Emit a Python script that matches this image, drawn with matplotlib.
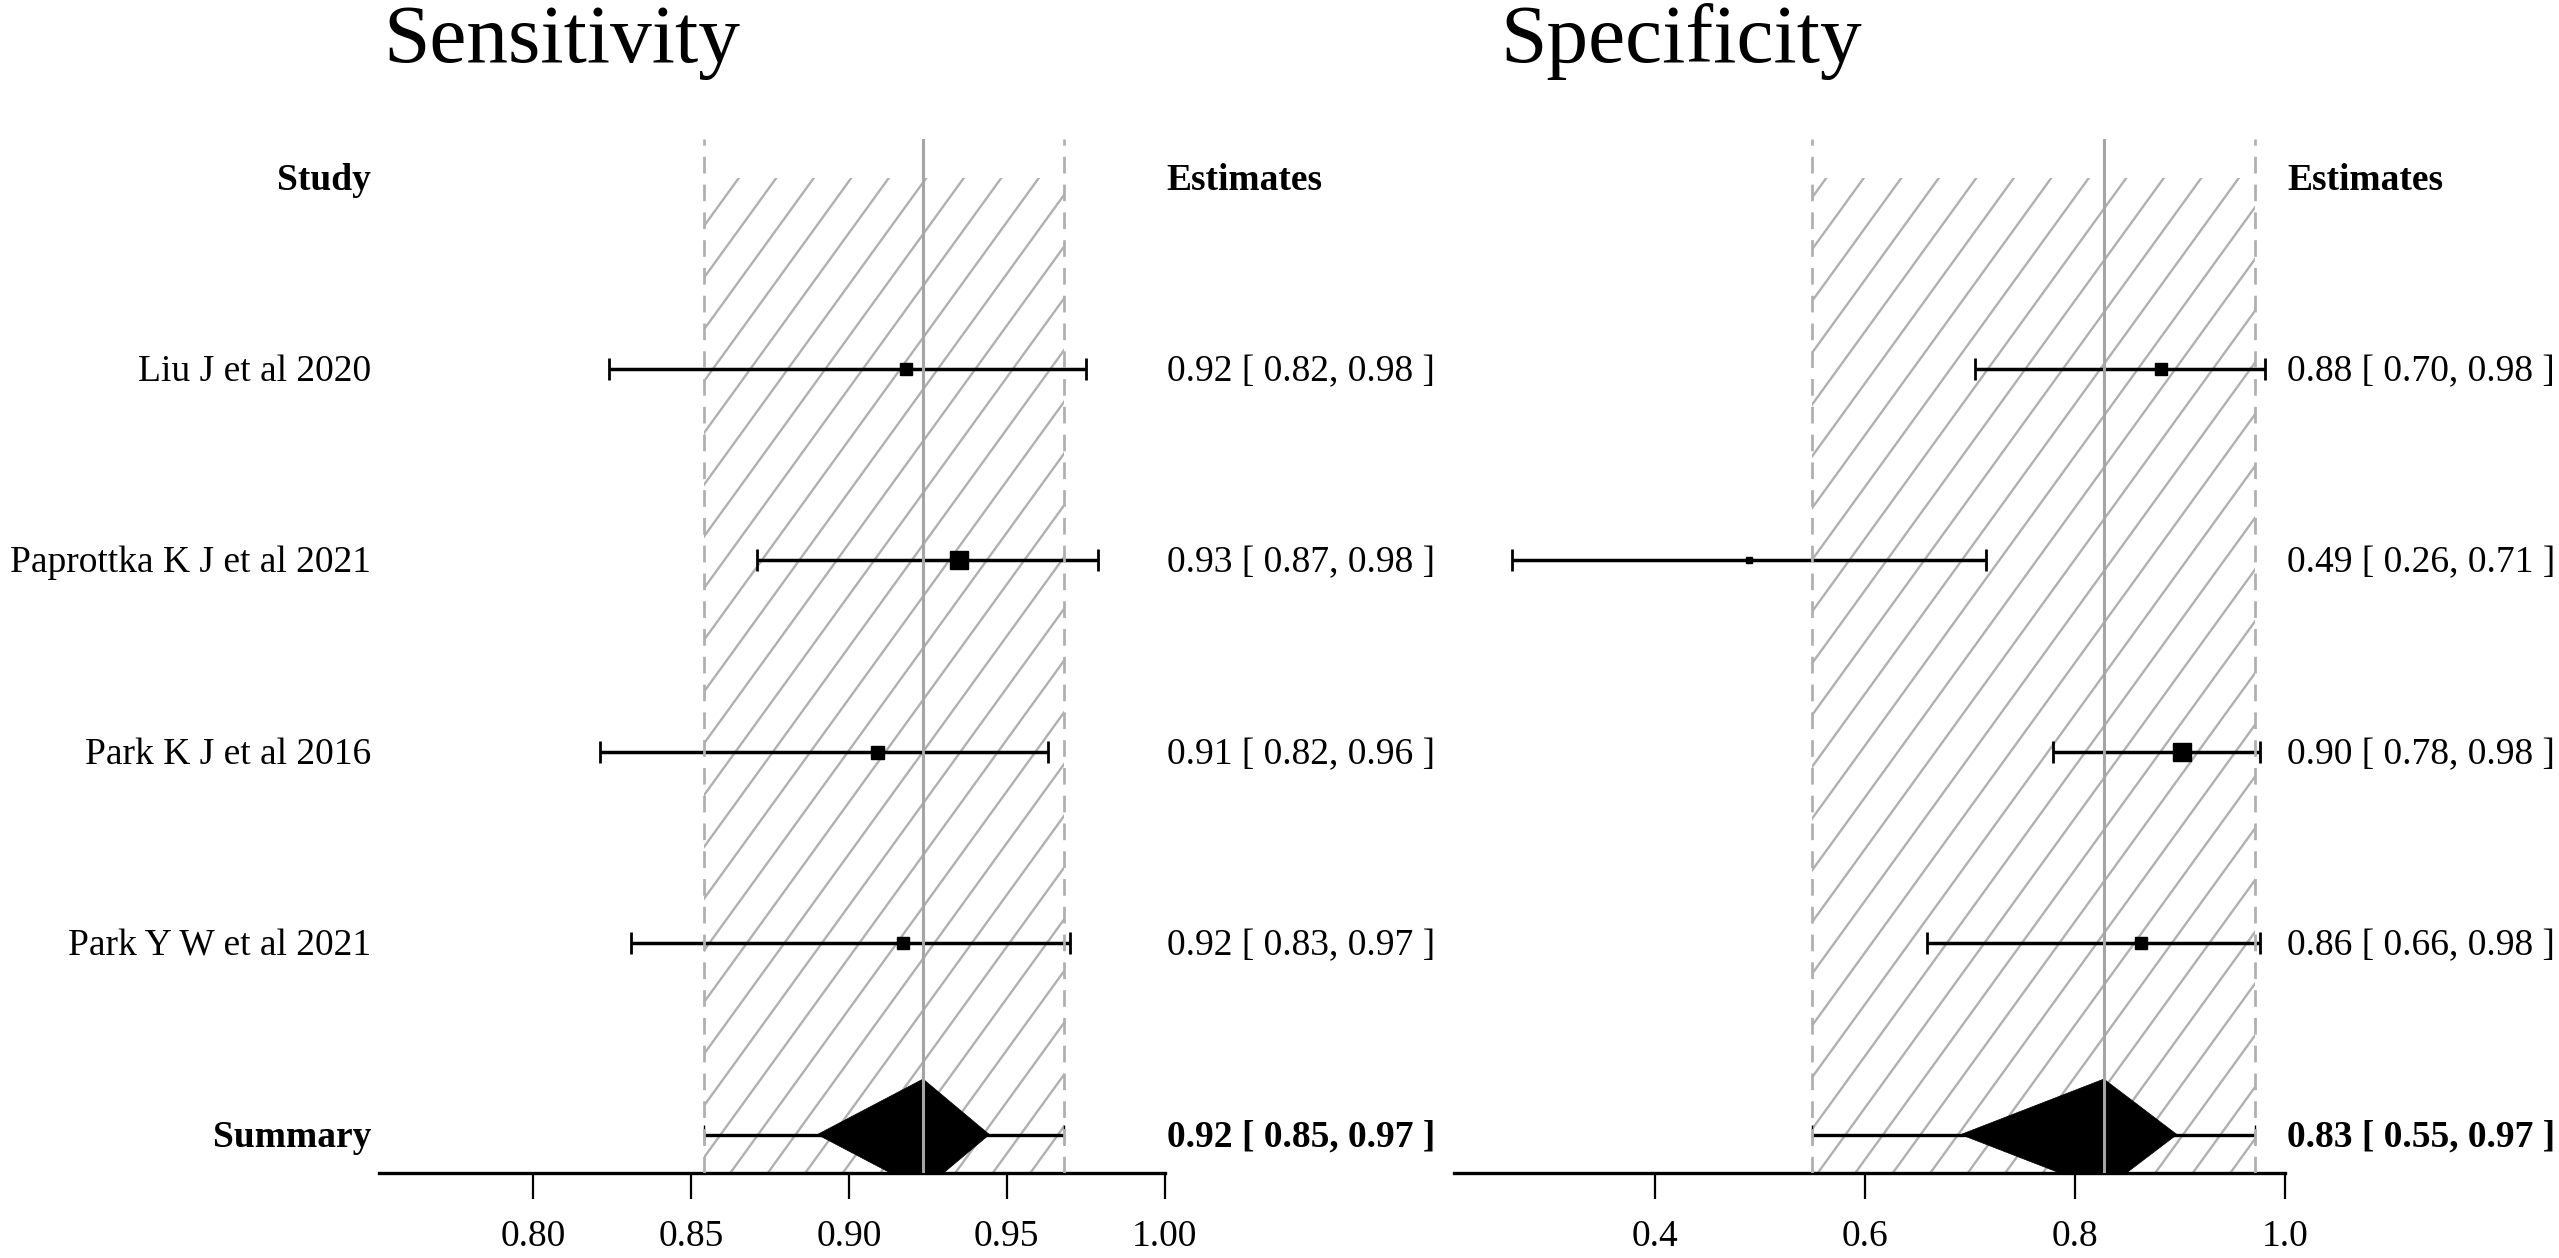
import numpy as np
import matplotlib
matplotlib.use("Agg")
import matplotlib.pyplot as plt
from matplotlib.patches import Rectangle, Polygon
from matplotlib.collections import LineCollection
from matplotlib.transforms import IdentityTransform, blended_transform_factory

plt.rcParams['font.family'] = ['Liberation Serif', 'DejaVu Serif']

# ---- data ----
studies = ["Liu J et al 2020", "Paprottka K J et al 2021",
           "Park K J et al 2016", "Park Y W et al 2021"]

sens_est = [0.918, 0.935, 0.909, 0.917]
sens_lo = [0.824, 0.871, 0.821, 0.831]
sens_hi = [0.975, 0.979, 0.963, 0.970]
sens_weight = [0.69, 1.00, 0.72, 0.70]
sens_text = ["0.92 [ 0.82, 0.98 ]", "0.93 [ 0.87, 0.98 ]",
             "0.91 [ 0.82, 0.96 ]", "0.92 [ 0.83, 0.97 ]"]
sens_sum = 0.9235
sens_sum_lo, sens_sum_hi = 0.854, 0.968
sens_dia_lo, sens_dia_hi = 0.890, 0.9445
sens_sum_text = "0.92 [ 0.85, 0.97 ]"
sens_ticks = [0.80, 0.85, 0.90, 0.95, 1.00]
sens_ticklabels = ["0.80", "0.85", "0.90", "0.95", "1.00"]

spec_est = [0.882, 0.489, 0.902, 0.863]
spec_lo = [0.705, 0.263, 0.779, 0.659]
spec_hi = [0.981, 0.715, 0.976, 0.976]
spec_weight = [0.67, 0.33, 1.00, 0.61]
spec_text = ["0.88 [ 0.70, 0.98 ]", "0.49 [ 0.26, 0.71 ]",
             "0.90 [ 0.78, 0.98 ]", "0.86 [ 0.66, 0.98 ]"]
spec_sum = 0.8274
spec_sum_lo, spec_sum_hi = 0.549, 0.971
spec_dia_lo, spec_dia_hi = 0.691, 0.897
spec_sum_text = "0.83 [ 0.55, 0.97 ]"
spec_ticks = [0.4, 0.6, 0.8, 1.0]
spec_ticklabels = ["0.4", "0.6", "0.8", "1.0"]

W, H = 2559, 1258
fig = plt.figure(figsize=(W / 100, H / 100), dpi=100)

rows = np.arange(len(studies), 0, -1) + 1.0   # 5,4,3,2
y_sum = 1.0
y_head = 6.0
base_off = 0.063
FS = 27

ax1 = fig.add_axes([379 / W, 0.0677, 785.5 / W, 0.8216])
ax2 = fig.add_axes([1454 / W, 0.0677, 831 / W, 0.8216])


def panel(ax, xlim, est, lo, hi, weight, texts, s_est, s_lo, s_hi, d_lo, d_hi,
          s_text, ticks, ticklabels, labels):
    ax.set_xlim(*xlim)
    ax.set_ylim(0.8, 6.2)
    for sp in ["left", "right", "top"]:
        ax.spines[sp].set_visible(False)
    ax.spines["bottom"].set_linewidth(2.4)
    ax.set_yticks([])
    ax.set_xticks(ticks)
    ax.set_xticklabels(ticklabels)
    ax.tick_params(axis="x", length=18.7, width=1.6, pad=15, labelsize=FS)
    ax.patch.set_visible(False)

    # hatched summary interval
    rect = Rectangle((s_lo, 0.8), s_hi - s_lo, 6.0 - 0.8, fill=False,
                     edgecolor="none", transform=ax.transData)
    slope = 1.38
    segs = []
    for x0 in np.arange(27 - 37.5 * 60, W + 1000, 37.5):
        segs.append([(x0 - 1081 / slope, 0), (x0 + 177 / slope, H)])
    lc = LineCollection(segs, colors="#b0b0b0", linewidths=1.7,
                        transform=IdentityTransform(), zorder=1)
    ax.add_collection(lc, autolim=False)
    lc.set_clip_path(rect)

    # study intervals
    ax.errorbar(est, rows, xerr=[np.subtract(est, lo), np.subtract(hi, est)],
                fmt="none", ecolor="black", elinewidth=2.5, capsize=8,
                capthick=2.0, zorder=3)
    for e, r, w in zip(est, rows, weight):
        ax.plot(e, r, marker="s", color="black", markersize=13 * w,
                linestyle="none", zorder=6)

    # summary line and diamond
    ax.errorbar([s_est], [y_sum], xerr=[[s_est - s_lo], [s_hi - s_est]],
                fmt="none", ecolor="black", elinewidth=2.4, capsize=7,
                capthick=1.0, zorder=3)
    dia = Polygon([(d_lo, y_sum), (s_est, y_sum + 0.29), (d_hi, y_sum),
                   (s_est, y_sum - 0.29)], closed=True, facecolor="black",
                  edgecolor="black", linewidth=0.5, zorder=4)
    ax.add_patch(dia)

    # reference lines
    for xv in (s_lo, s_hi):
        ax.plot([xv, xv], [0.8, 6.2], color="#b0b0b0", linewidth=2.0,
                dashes=(6, 4), zorder=5, solid_capstyle="butt")
    ax.plot([s_est, s_est], [0.8, 6.2], color="#a5a5a5", linewidth=2.2,
            zorder=5)

    # estimates column
    tr = blended_transform_factory(ax.transAxes, ax.transData)
    ax.text(1.003, y_head - base_off, "Estimates", transform=tr, ha="left",
            va="baseline", fontsize=FS, fontweight="bold")
    for t, r in zip(texts, rows):
        ax.text(1.003, r - base_off, t, transform=tr, ha="left",
                va="baseline", fontsize=FS)
    ax.text(1.003, y_sum - base_off, s_text, transform=tr, ha="left",
            va="baseline", fontsize=FS, fontweight="bold")

    if labels:
        off = -8 / (ax.get_position().width * W)
        ax.text(off, y_head - base_off, "Study", transform=tr, ha="right",
                va="baseline", fontsize=FS, fontweight="bold")
        for s, r in zip(studies, rows):
            ax.text(off, r - base_off, s, transform=tr, ha="right",
                    va="baseline", fontsize=FS)
        ax.text(off, y_sum - base_off, "Summary", transform=tr, ha="right",
                va="baseline", fontsize=FS, fontweight="bold")


panel(ax1, (0.7511, 1.0), sens_est, sens_lo, sens_hi, sens_weight, sens_text,
      sens_sum, sens_sum_lo, sens_sum_hi, sens_dia_lo, sens_dia_hi,
      sens_sum_text, sens_ticks, sens_ticklabels, True)
panel(ax2, (0.208, 1.0), spec_est, spec_lo, spec_hi, spec_weight, spec_text,
      spec_sum, spec_sum_lo, spec_sum_hi, spec_dia_lo, spec_dia_hi,
      spec_sum_text, spec_ticks, spec_ticklabels, False)

fig.text(383 / W, 1 - 62 / H, "Sensitivity", fontsize=60, ha="left",
         va="baseline")
fig.text(1500 / W, 1 - 62 / H, "Specificity", fontsize=60, ha="left",
         va="baseline")

fig.savefig("out.png", dpi=100, facecolor="white")
